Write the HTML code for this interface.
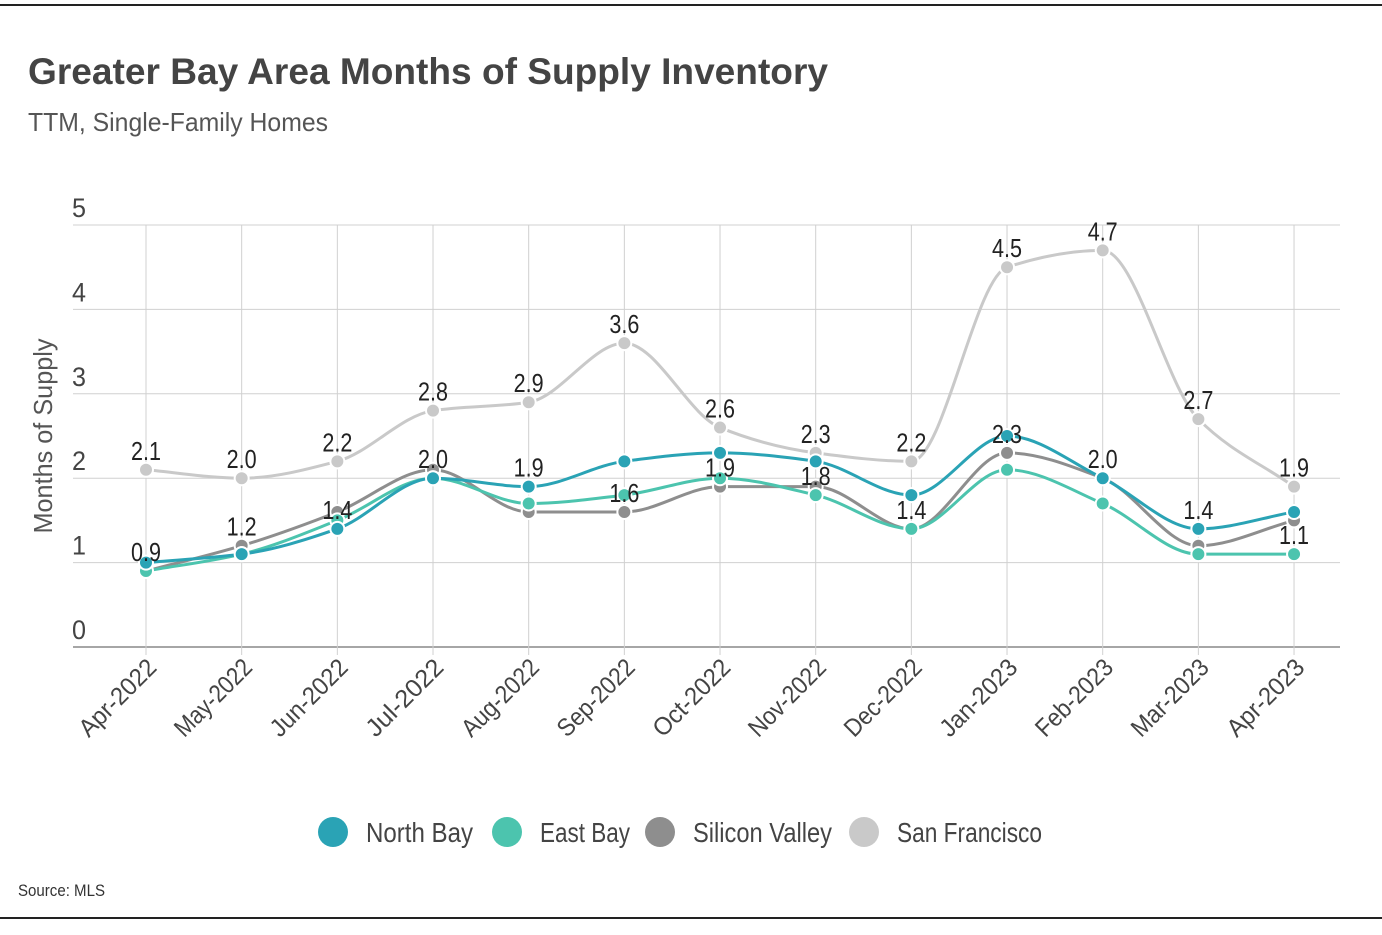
<!DOCTYPE html>
<html><head><meta charset="utf-8"><style>
body{margin:0;background:#fff;width:1382px;height:930px;overflow:hidden;font-family:"Liberation Sans Narrow","Liberation Sans",sans-serif;}
</style></head><body>
<svg id="chart" width="1382" height="930" font-family="'Liberation Sans Narrow','Liberation Sans',sans-serif">
<line x1="0" y1="5" x2="1382" y2="5" stroke="#222" stroke-width="2"/>
<line x1="0" y1="918" x2="1382" y2="918" stroke="#222" stroke-width="2"/>
<text x="28" y="84" font-size="37" font-weight="bold" fill="#444" textLength="800" lengthAdjust="spacingAndGlyphs">Greater Bay Area Months of Supply Inventory</text>
<text x="28" y="131" font-size="26" fill="#555" textLength="300" lengthAdjust="spacingAndGlyphs">TTM, Single-Family Homes</text>
<text transform="translate(52,436) rotate(-90)" text-anchor="middle" font-size="26" fill="#555" textLength="195" lengthAdjust="spacingAndGlyphs">Months of Supply</text>
<text x="18" y="896" font-size="17" fill="#333" textLength="87" lengthAdjust="spacingAndGlyphs">Source: MLS</text>
<g id="grid"></g><g id="lines"></g><g id="labels"></g><g id="legend"></g>
</svg>
<script>
const categories=["Apr-2022","May-2022","Jun-2022","Jul-2022","Aug-2022","Sep-2022","Oct-2022","Nov-2022","Dec-2022","Jan-2023","Feb-2023","Mar-2023","Apr-2023"];
const yTicks=[0,1,2,3,4,5];
const northBay=[1.0,1.1,1.4,2.0,1.9,2.2,2.3,2.2,1.8,2.5,2.0,1.4,1.6];
const eastBay=[0.9,1.1,1.5,2.0,1.7,1.8,2.0,1.8,1.4,2.1,1.7,1.1,1.1];
const siliconValley=[0.9,1.2,1.6,2.1,1.6,1.6,1.9,1.9,1.4,2.3,2.0,1.2,1.5];
const sanFrancisco=[2.1,2.0,2.2,2.8,2.9,3.6,2.6,2.3,2.2,4.5,4.7,2.7,1.9];
const seriesNames=["North Bay","East Bay","Silicon Valley","San Francisco"];
const seriesColors=["#2aa3b5","#4cc4ae","#8e8e8e","#c9c9c9"];
const labelSeries=[2,2,0,0,0,2,2,1,2,2,2,0,1];
const allSeries=[northBay,eastBay,siliconValley,sanFrancisco];
const NS="http://www.w3.org/2000/svg";
const X0=146,DX=95.67,Y0=647,DY=84.4,PL=73,PR=1340;
const x=i=>X0+i*DX, y=v=>Y0-v*DY;
function mk(t,a,p){const e=document.createElementNS(NS,t);for(const k in a)e.setAttribute(k,a[k]);p.appendChild(e);return e;}
const grid=document.getElementById('grid');
yTicks.forEach(t=>{
 const l=mk('line',{x1:PL,x2:PR,y1:y(t),y2:y(t),stroke:t===0?'#888':'#d0d0d0','stroke-width':t===0?1.5:1},grid);
 
 
 const tx=mk('text',{x:86,y:y(t)-8,'text-anchor':'end','font-size':27,fill:'#444',textLength:14,lengthAdjust:'spacingAndGlyphs'},grid);tx.textContent=t;
 
 
});
categories.forEach((c,i)=>{
 const l=mk('line',{x1:x(i),x2:x(i),y1:y(5),y2:y(0)+8,stroke:'#d0d0d0'},grid);
 
 
 const tx=mk('text',{transform:`translate(${x(i)+12},${y(0)+22}) rotate(-45)`,'text-anchor':'end','font-size':25,fill:'#444',textLength:98,lengthAdjust:'spacingAndGlyphs'},grid);tx.textContent=c;
 
 
});
function path(vals){
 const n=vals.length,p=vals.map((v,i)=>[x(i),y(v)]);
 const d=[],m=[];for(let i=0;i<n-1;i++)d.push((p[i+1][1]-p[i][1])/DX);
 for(let i=0;i<n;i++){if(i===0)m.push(d[0]);else if(i===n-1)m.push(d[n-2]);else if(d[i-1]*d[i]<=0)m.push(0);else m.push(2/(1/d[i-1]+1/d[i]));}
 let s=`M${p[0][0]},${p[0][1]}`;
 for(let i=0;i<n-1;i++){const h=DX/3;s+=` C${p[i][0]+h},${p[i][1]+m[i]*h} ${p[i+1][0]-h},${p[i+1][1]-m[i+1]*h} ${p[i+1][0]},${p[i+1][1]}`;}
 return s;}
const lines=document.getElementById('lines');
[3,2,1,0].forEach(s=>{
 const pa=mk('path',{d:path(allSeries[s]),fill:'none',stroke:seriesColors[s],'stroke-width':3},lines);
 
 
 allSeries[s].forEach((v,i)=>{const c=mk('circle',{cx:x(i),cy:y(v),r:7,fill:seriesColors[s],stroke:'#fff','stroke-width':2},lines);
  
  });
});
const labels=document.getElementById('labels');
function lab(i,v){const t=mk('text',{x:x(i),y:y(v)-10,'text-anchor':'middle','font-size':26,fill:'#222',textLength:30,lengthAdjust:'spacingAndGlyphs'},labels);t.textContent=v.toFixed(1);
 
 }
sanFrancisco.forEach((v,i)=>lab(i,v));
labelSeries.forEach((s,i)=>lab(i,allSeries[s][i]));
const legend=document.getElementById('legend');
const lx=[333,507,660,864];
const lw=[107,90,139,145];
seriesNames.forEach((n,s)=>{
 const g=mk('g',{},legend);
 
 
 mk('circle',{cx:lx[s],cy:832,r:15,fill:seriesColors[s]},g);
 const t=mk('text',{x:lx[s]+33,y:842,'font-size':28,fill:'#444',textLength:lw[s],lengthAdjust:'spacingAndGlyphs'},g);t.textContent=n;
});
</script>
</body></html>
